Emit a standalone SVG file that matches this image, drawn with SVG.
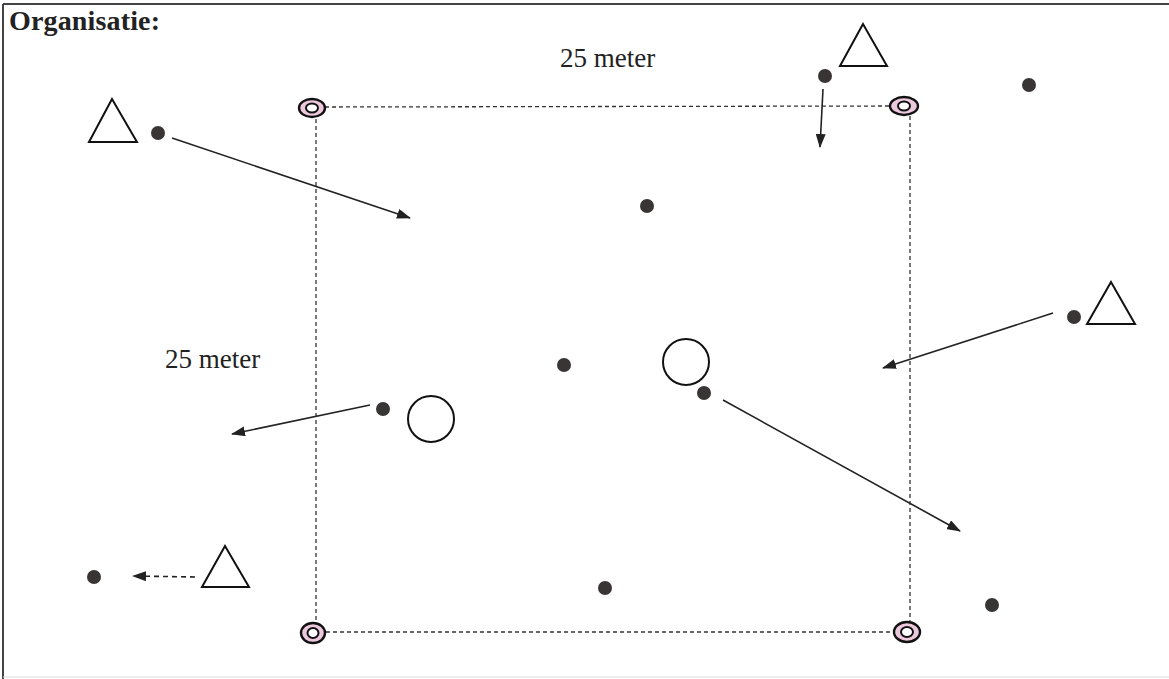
<svg xmlns="http://www.w3.org/2000/svg" width="1169" height="679" viewBox="0 0 1169 679">
<style>
.t{font-family:"Liberation Serif","Times New Roman",serif;fill:#222}
.dot{fill:#3a3535}
.tri{fill:#fff;stroke:#111;stroke-width:2}
.ring{fill:#fff;stroke:#111;stroke-width:2}
.cone{fill:#ecc8dc;stroke:#111;stroke-width:2.4}
.cin{fill:#fff;stroke:#111;stroke-width:2}
.field{stroke:#333;stroke-width:1.3;stroke-dasharray:4 3;fill:none}
.arr{stroke:#222;stroke-width:1.6;fill:none;marker-end:url(#ah)}
.darr{stroke:#222;stroke-width:1.6;fill:none;stroke-dasharray:5 4;marker-end:url(#ah)}
</style>
<defs>
<marker id="ah" viewBox="0 0 14 10" refX="13" refY="5" markerWidth="14" markerHeight="10" markerUnits="userSpaceOnUse" orient="auto">
<path d="M0,0 L14,5 L0,10 z" fill="#222"/>
</marker>
</defs>
<rect width="1169" height="679" fill="#fff"/>
<g id="frame" stroke="#444" stroke-width="2" fill="none">
<line x1="3" y1="4" x2="1169" y2="4"/>
<line x1="3" y1="4" x2="3" y2="679"/>
<line x1="3" y1="677" x2="1169" y2="677" stroke="#ddd" stroke-width="1"/>
</g>
<text class="t" x="9" y="30" font-size="28" font-weight="bold" textLength="151">Organisatie:</text>
<text class="t" x="560" y="67" font-size="27">25 meter</text>
<text class="t" x="165" y="368" font-size="27">25 meter</text>
<g id="field">
<line class="field" x1="325" y1="107" x2="892" y2="106"/>
<line class="field" x1="316" y1="119" x2="316" y2="622"/>
<line class="field" x1="910" y1="116" x2="910" y2="621"/>
<line class="field" x1="326" y1="632" x2="895" y2="632"/>
</g>
<g id="cone-tl"><ellipse class="cone" cx="312" cy="108" rx="13" ry="9"/><ellipse class="cin" cx="312" cy="108" rx="6" ry="4.5"/></g>
<g id="cone-tr"><ellipse class="cone" cx="904" cy="106" rx="14" ry="9"/><ellipse class="cin" cx="904" cy="106" rx="6" ry="4.5"/></g>
<g id="cone-bl"><ellipse class="cone" cx="313" cy="633" rx="12" ry="10"/><ellipse class="cin" cx="313" cy="633" rx="5.5" ry="5"/></g>
<g id="cone-br"><ellipse class="cone" cx="907" cy="632" rx="13" ry="10"/><ellipse class="cin" cx="907" cy="632" rx="6" ry="5"/></g>
<g id="tri-1"><polygon class="tri" points="112,99 89,142 137,142"/></g>
<g id="tri-2"><polygon class="tri" points="863,24 840,66 887,66"/></g>
<g id="tri-3"><polygon class="tri" points="1111,282 1087,324 1135,324"/></g>
<g id="tri-4"><polygon class="tri" points="225,546 202,587 249,587"/></g>
<g id="ball-1"><circle class="ring" cx="686" cy="362" r="23"/></g>
<g id="ball-2"><circle class="ring" cx="431" cy="419" r="23"/></g>
<g id="players">
<circle class="dot" cx="158" cy="133" r="7"/>
<circle class="dot" cx="825" cy="76" r="7"/>
<circle class="dot" cx="1029" cy="85" r="7"/>
<circle class="dot" cx="647" cy="206" r="7"/>
<circle class="dot" cx="1074" cy="317" r="7"/>
<circle class="dot" cx="564" cy="365" r="7"/>
<circle class="dot" cx="704" cy="393" r="7"/>
<circle class="dot" cx="383" cy="409" r="7"/>
<circle class="dot" cx="94" cy="577" r="7"/>
<circle class="dot" cx="605" cy="588" r="7"/>
<circle class="dot" cx="992" cy="605" r="7"/>
</g>
<g id="connectors">
<line class="arr" x1="172" y1="138" x2="410" y2="218"/>
<line class="arr" x1="823" y1="89" x2="820" y2="147"/>
<line class="arr" x1="1053" y1="313" x2="883" y2="368"/>
<line class="arr" x1="723" y1="400" x2="960" y2="531"/>
<line class="arr" x1="370" y1="405" x2="232" y2="434"/>
<line class="darr" x1="195" y1="577" x2="133" y2="576"/>
</g>
</svg>
